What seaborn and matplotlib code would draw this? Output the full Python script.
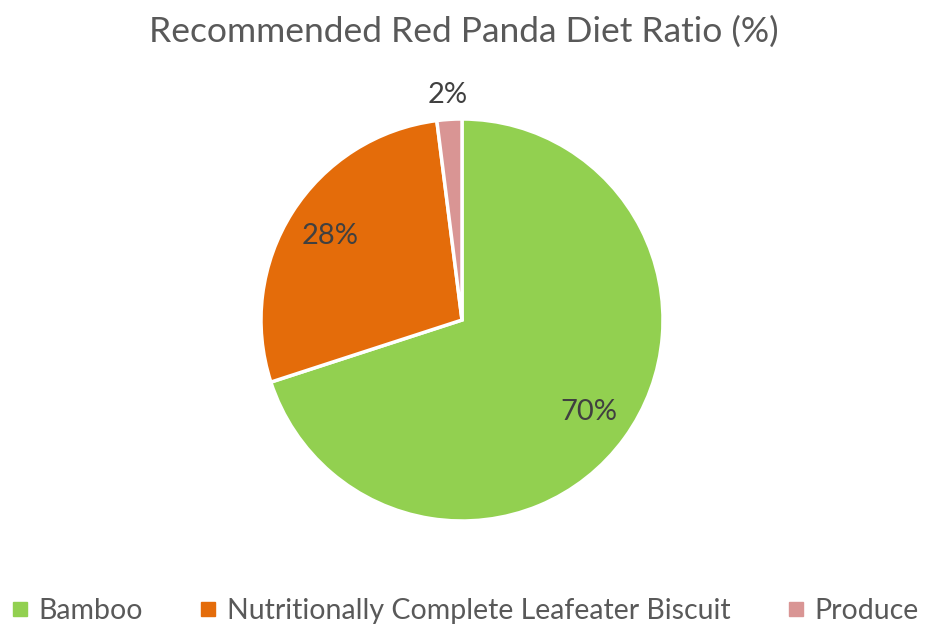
import matplotlib
matplotlib.use("Agg")
import matplotlib.pyplot as plt
import seaborn as sns
import numpy as np
from matplotlib.lines import Line2D

sns.set_theme(style="white")
plt.rcParams['font.family'] = ['Lato', 'DejaVu Sans']

categories = ["Bamboo", "Nutritionally Complete Leafeater Biscuit", "Produce"]
values = [70, 28, 2]
colors = ["#92D050", "#E46C0A", "#D99594"]
title = "Recommended Red Panda Diet Ratio (%)"

fig = plt.figure(figsize=(9.28, 6.26), dpi=100)
ax = fig.add_axes([261/928, (626-521)/626, 402/928, 402/626])

wedges, texts, autotexts = ax.pie(
    values, colors=colors, startangle=90, counterclock=False,
    autopct=lambda p: f"{p:.0f}%", pctdistance=0.78,
    wedgeprops=dict(edgecolor="white", linewidth=2.5),
    textprops=dict(color="#404040", fontsize=21))
ax.set_xlim(-1, 1)
ax.set_ylim(-1, 1)
ax.set_aspect("equal")

# move small-slice label outside
for w, t, v in zip(wedges, autotexts, values):
    if v < 5:
        ang = np.deg2rad((w.theta1 + w.theta2) / 2)
        t.set_position((1.12 * np.cos(ang), 1.12 * np.sin(ang)))
        t.set_clip_on(False)

fig.text(0.5, 1 - 32/626, title, ha="center", va="center", fontsize=25.5, color="#595959")

handles = [Line2D([0], [0], marker="s", linestyle="", markersize=10,
                  markerfacecolor=c, markeredgecolor=c) for c in colors]
fig.legend(handles, categories, loc="center", bbox_to_anchor=(0.5, 1 - 611/626),
           ncol=3, frameon=False, fontsize=20.5, labelcolor="#595959",
           handletextpad=0.3, columnspacing=1.95, handlelength=0.7,
           borderpad=0.1)

fig.savefig("out.png", dpi=100)
